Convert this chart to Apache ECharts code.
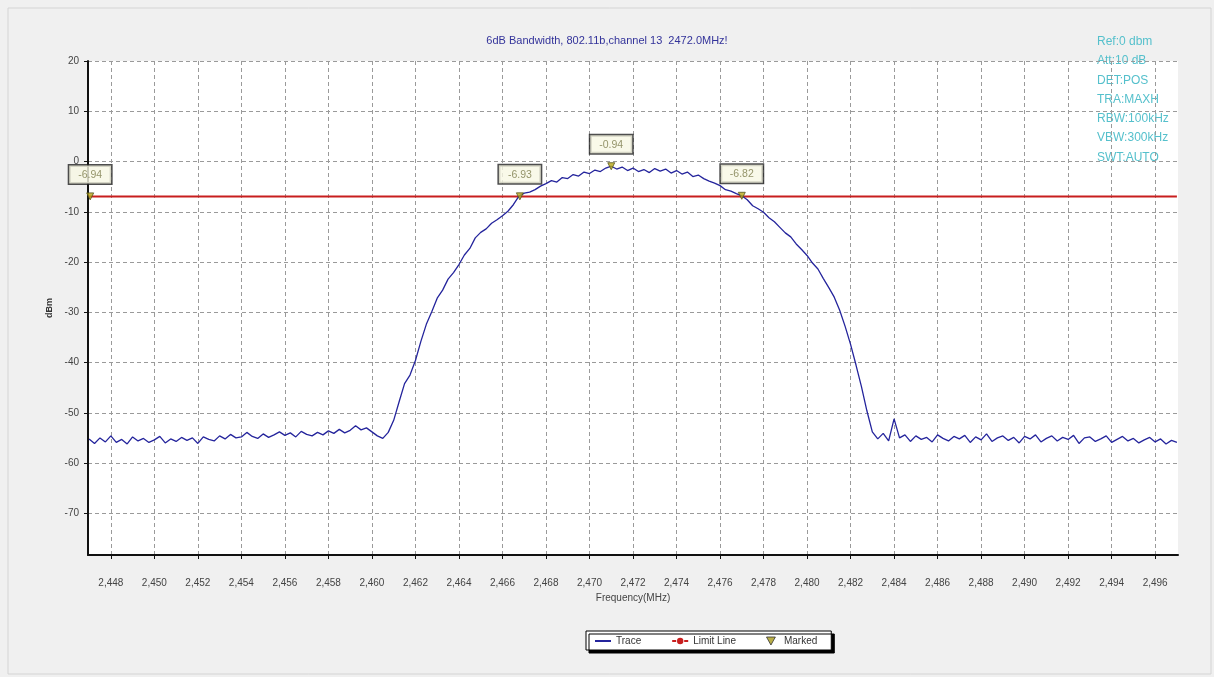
<!DOCTYPE html>
<html>
<head>
<meta charset="utf-8">
<title>6dB Bandwidth</title>
<script src="https://cdn.jsdelivr.net/npm/echarts@6/dist/echarts.min.js"></script>
<style>
  html, body { margin: 0; padding: 0; background: #f0f0f0; }
  #chart { width: 1214px; height: 677px; }
</style>
</head>
<body>
<div id="chart"></div>
<script>
// sweep: 2447 MHz start, 0.25 MHz per point
const freqStart = 2447
const freqStep = 0.25

// trace levels (dBm)
const traceValues = [
  -55.2, -56.1, -55.0, -55.8, -54.6, -55.9, -55.3, -56.2, -54.8, -55.6, -55.1, -55.9,
  -55.4, -54.7, -56.0, -55.2, -55.7, -54.9, -55.5, -55.0, -56.1, -54.8, -55.3, -55.6,
  -54.6, -55.2, -54.3, -55.0, -54.8, -53.9, -54.7, -55.1, -54.2, -54.9, -54.4, -53.8,
  -54.5, -54.0, -54.8, -53.7, -54.3, -54.6, -53.9, -54.4, -53.6, -54.1, -53.3, -54.0,
  -53.5, -52.6, -53.4, -53.0, -53.8, -54.6, -55.1, -53.9,
  -51.5, -47.8, -44.2, -42.5,
  -39.6, -35.8, -32.4, -29.9,
  -27.2, -25.6, -23.4, -22.1,
  -20.5, -18.6, -17.3, -15.2,
  -14.1, -13.4, -12.3, -11.6,
  -10.8, -9.9, -8.6, -6.93,
  -6.3, -6.1, -5.6, -4.9,
  -4.4, -3.8, -4.1, -3.2,
  -3.4, -2.6, -2.9, -2.1,
  -2.4, -1.7, -2.0, -1.3,
  -0.94, -1.5, -1.1, -1.8,
  -1.3, -2.0, -1.6, -2.2,
  -1.4, -1.9, -1.5, -2.3,
  -1.8, -2.5, -2.1, -3.0,
  -2.7, -3.4, -3.9, -4.3,
  -4.8, -5.6, -5.9, -6.4,
  -6.82, -7.6, -8.8, -9.4,
  -10.1, -11.2, -12.0, -13.1,
  -14.2, -15.0, -16.4, -17.5,
  -18.7, -20.2, -21.4, -23.3,
  -25.1, -27.0, -29.6, -32.8,
  -36.4, -40.5, -44.8, -49.6,
  -53.8, -55.2, -54.1, -55.6,
  -51.2, -55.0, -54.4, -55.7,
  -54.6, -55.3, -54.9, -55.8, -54.4, -55.1, -55.6, -54.7,
  -55.2, -54.5, -55.9, -54.8, -55.4, -54.2, -55.7, -55.0,
  -54.6, -55.5, -54.9, -56.0, -54.7, -55.2, -54.4, -55.8,
  -55.1, -54.6, -55.6, -54.9, -55.3, -54.5, -56.1, -55.0,
  -54.8, -55.7, -55.2, -54.6, -55.9, -55.3, -54.7, -55.6,
  -55.1, -56.0, -55.4, -54.9, -55.8, -55.2, -56.2, -55.5,
  -55.9
]

const limitFreqs = [2447, 2497]
const limitValues = [-6.94, -6.94]

const markerFreqs = [2447.05, 2466.8, 2471.0, 2477.0]
const markerValues = [-6.94, -6.93, -0.94, -6.82]

const xTicks = [2448, 2450, 2452, 2454, 2456, 2458, 2460, 2462, 2464, 2466, 2468, 2470,
  2472, 2474, 2476, 2478, 2480, 2482, 2484, 2486, 2488, 2490, 2492, 2494, 2496]
const yTicks = [20, 10, 0, -10, -20, -30, -40, -50, -60, -70]

const infoLines = ['Ref:0 dbm', 'Att:10 dB', 'DET:POS', 'TRA:MAXH', 'RBW:100kHz', 'VBW:300kHz', 'SWT:AUTO']

const traceData = traceValues.map((v, i) => [freqStart + i * freqStep, v])
const limitData = limitFreqs.map((f, i) => [f, limitValues[i]])
const markerData = markerFreqs.map((f, i) => [f, markerValues[i]])

const font = 'Liberation Sans, Arial, sans-serif'

const chart = echarts.init(document.getElementById('chart'))

const option = {
  backgroundColor: '#f0f0f0',
  animation: false,
  textStyle: { fontFamily: font },
  title: {
    text: '6dB Bandwidth, 802.11b,channel 13  2472.0MHz!',
    left: 'center',
    top: 30,
    textStyle: { fontSize: 11, fontWeight: 'normal', color: '#33339a', fontFamily: font }
  },
  graphic: [
    {
      type: 'rect',
      shape: { x: 8, y: 8, width: 1203, height: 666 },
      style: { fill: 'none', stroke: '#d4d4d4', lineWidth: 1 },
      silent: true
    },
    {
      type: 'text',
      left: 1097,
      top: 32,
      silent: true,
      style: {
        text: infoLines.join('\n'),
        fill: '#55c0cc',
        font: '12px Liberation Sans, Arial, sans-serif',
        lineHeight: 19.3
      }
    }
  ],
  legend: {
    left: 586,
    top: 631,
    backgroundColor: '#ffffff',
    borderColor: '#000',
    borderWidth: 1,
    shadowColor: '#000',
    shadowOffsetX: 3,
    shadowOffsetY: 3,
    shadowBlur: 0,
    padding: [5, 14, 4, 8],
    itemGap: 30,
    itemWidth: 16,
    itemHeight: 8,
    textStyle: { fontSize: 10, color: '#333', fontFamily: font },
    data: [
      { name: 'Trace', itemStyle: { opacity: 0 } },
      { name: 'Limit Line', lineStyle: { type: [4, 2] } },
      {
        name: 'Marked',
        icon: 'path://M0,0 L10,0 L5,9 Z',
        itemStyle: { color: '#a89a18', borderColor: '#333', borderWidth: 1 }
      }
    ]
  },
  grid: {
    left: 88,
    right: 36,
    top: 61,
    bottom: 122,
    show: true,
    backgroundColor: '#ffffff',
    borderWidth: 0
  },
  xAxis: {
    type: 'value',
    min: 2446.95,
    max: 2497.05,
    name: 'Frequency(MHz)',
    nameLocation: 'middle',
    nameGap: 37,
    nameTextStyle: { fontSize: 10, color: '#444' },
    axisLine: { onZero: false, lineStyle: { color: '#111', width: 2 } },
    axisTick: { customValues: xTicks, length: 4, lineStyle: { color: '#111' } },
    axisLabel: {
      customValues: xTicks,
      margin: 23,
      fontSize: 10,
      color: '#444',
      formatter: v => String(v).replace(/^(\d)(\d{3})$/, '$1,$2')
    },
    splitLine: { show: true, lineStyle: { color: '#9a9a9a', type: [4, 3], width: 1 } }
  },
  yAxis: {
    type: 'value',
    min: -78.3,
    max: 20,
    name: 'dBm',
    nameLocation: 'middle',
    nameRotate: 90,
    nameGap: 33,
    nameTextStyle: { fontSize: 9, color: '#333', fontWeight: 'bold' },
    axisLine: { show: true, lineStyle: { color: '#111', width: 2 } },
    axisTick: { show: true, customValues: yTicks, length: 4, lineStyle: { color: '#111' } },
    axisLabel: { customValues: yTicks, margin: 9, fontSize: 10, color: '#444' },
    splitLine: { show: true, lineStyle: { color: '#9a9a9a', type: [4, 3], width: 1 } }
  },
  series: [
    {
      name: 'Trace',
      type: 'line',
      data: traceData,
      symbol: 'none',
      lineStyle: { color: '#24249c', width: 1.3 },
      itemStyle: { color: '#24249c' },
      z: 3
    },
    {
      name: 'Limit Line',
      type: 'line',
      data: limitData,
      symbol: 'circle',
      symbolSize: 4,
      showSymbol: false,
      lineStyle: { color: '#c81e1e', width: 2 },
      itemStyle: { color: '#c81e1e' },
      z: 2
    },
    {
      name: 'Marked',
      type: 'scatter',
      data: markerData,
      symbol: 'triangle',
      symbolRotate: 180,
      symbolSize: 7,
      itemStyle: { color: '#b8a818', borderColor: '#555520', borderWidth: 1 },
      label: {
        show: true,
        position: 'top',
        distance: 9,
        formatter: p => p.value[1].toFixed(2),
        fontSize: 10.5,
        color: '#7a7a4a',
        backgroundColor: '#f8f8e4',
        borderColor: '#222',
        borderWidth: 1.5,
        padding: [4, 9, 3, 9]
      },
      z: 5
    }
  ]
}

chart.setOption(option)
</script>
</body>
</html>
